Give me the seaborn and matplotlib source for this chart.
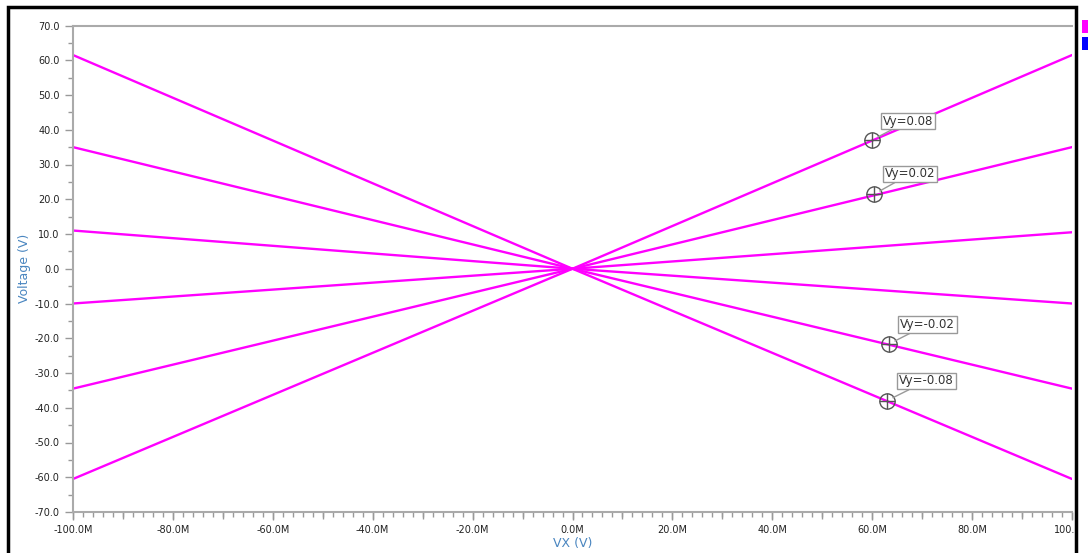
import numpy as np
import pandas as pd
import seaborn as sns
from matplotlib import pyplot as plt
from matplotlib.patches import Rectangle
from matplotlib.ticker import MultipleLocator, FuncFormatter, NullFormatter

# sweep of VX (in M units) and the output voltage of each trace
vx = [-100.0, 0.0, 100.0]
trace_a = [-60.5, 0.0, 61.5]    # Vy=0.08
trace_b = [-34.5, 0.0, 35.0]    # Vy=0.02
trace_c = [-10.0, 0.0, 10.5]
trace_d = [11.0, 0.0, -10.0]
trace_e = [35.0, 0.0, -34.5]    # Vy=-0.02
trace_f = [61.5, 0.0, -60.5]    # Vy=-0.08

# cursor markers and their labels
cur_labels = ['Vy=0.08', 'Vy=0.02', 'Vy=-0.02', 'Vy=-0.08']
cur_x = [59.9, 60.3, 63.3, 62.9]
cur_y = [37.0, 21.4, -21.7, -38.0]
lab_x = [62.2, 62.6, 65.6, 65.4]
lab_y = [42.5, 27.3, -16.0, -32.3]

traces = [trace_a, trace_b, trace_c, trace_d, trace_e, trace_f]
rows = []
for i, tr in enumerate(traces):
    for x, y in zip(vx, tr):
        rows.append({'vx': x, 'v': y, 'trace': i})
df = pd.DataFrame(rows)

sns.set_style('white')
plt.rcParams['font.family'] = ['DejaVu Sans']

fig = plt.figure(figsize=(10.88, 5.53), dpi=100)
ax = fig.add_axes([73 / 1088, 41 / 553, (1072 - 73) / 1088, (512 - 25.5) / 553])

sns.lineplot(data=df, x='vx', y='v', hue='trace', palette=['#ff00ff'] * 6,
             linewidth=1.7, legend=False, ax=ax, estimator=None, sort=False)

ax.set_xlim(-100, 100)
ax.set_ylim(-70, 70)
ax.xaxis.set_major_locator(MultipleLocator(20))
ax.xaxis.set_minor_locator(MultipleLocator(2))
ax.yaxis.set_major_locator(MultipleLocator(10))
ax.yaxis.set_minor_locator(MultipleLocator(5))
ax.xaxis.set_major_formatter(FuncFormatter(lambda v, p: f'{v:.1f}M'))
ax.yaxis.set_major_formatter(FuncFormatter(lambda v, p: f'{v:.1f}'))
ax.tick_params(axis='both', which='both', direction='out', colors='#999999',
               labelcolor='#222222', labelsize=7, bottom=True, left=True)
ax.tick_params(axis='both', which='major', length=6, width=1)
ax.tick_params(axis='both', which='minor', length=3.5, width=1)

# medium ticks every 10M on the x axis
sec = ax.secondary_xaxis('bottom')
sec.xaxis.set_major_locator(MultipleLocator(10))
sec.xaxis.set_major_formatter(NullFormatter())
sec.tick_params(axis='x', direction='out', length=5, width=1, colors='#999999')
sec.spines['bottom'].set_visible(False)

for s in ['left', 'bottom', 'top']:
    ax.spines[s].set_color('#aaaaaa')
    ax.spines[s].set_linewidth(1.5)
ax.spines['right'].set_visible(False)

ax.set_xlabel('VX (V)', color='#4a86c0', fontsize=9, labelpad=1)
ax.set_ylabel('Voltage (V)', color='#4a86c0', fontsize=9, labelpad=3)

for t, cx, cy, lx, ly in zip(cur_labels, cur_x, cur_y, lab_x, lab_y):
    ax.plot(cx, cy, marker='o', ms=11, mfc='none', mec='#555555', mew=1, zorder=5)
    ax.plot(cx, cy, marker='+', ms=11, mec='#555555', mew=1, zorder=5)
    ax.annotate(t, xy=(cx, cy), xytext=(lx, ly), fontsize=8.5, color='#333333',
                ha='left', va='center', zorder=6,
                bbox=dict(boxstyle='square,pad=0.15', fc='white', ec='#999999', lw=1),
                arrowprops=dict(arrowstyle='-', color='#999999', lw=1,
                                shrinkA=0, shrinkB=5))

# outer frame of the window, cut-off side panel and legend swatches
fig.patches.append(Rectangle((1078 / 1088, 0), 10 / 1088, 1, transform=fig.transFigure,
                             fc='white', ec='none', zorder=10))
fig.patches.append(Rectangle((8 / 1088, -0.05), (1076 - 8) / 1088, 1.05 - 7 / 553,
                             transform=fig.transFigure, fill=False, ec='black',
                             lw=2.5, zorder=11))
fig.patches.append(Rectangle((1082 / 1088, 1 - 33 / 553), 8 / 1088, 13 / 553,
                             transform=fig.transFigure, fc='#ff00ff', ec='none', zorder=12))
fig.patches.append(Rectangle((1082 / 1088, 1 - 50 / 553), 8 / 1088, 13 / 553,
                             transform=fig.transFigure, fc='#0000ff', ec='none', zorder=12))

fig.savefig('out.png', dpi=100)
